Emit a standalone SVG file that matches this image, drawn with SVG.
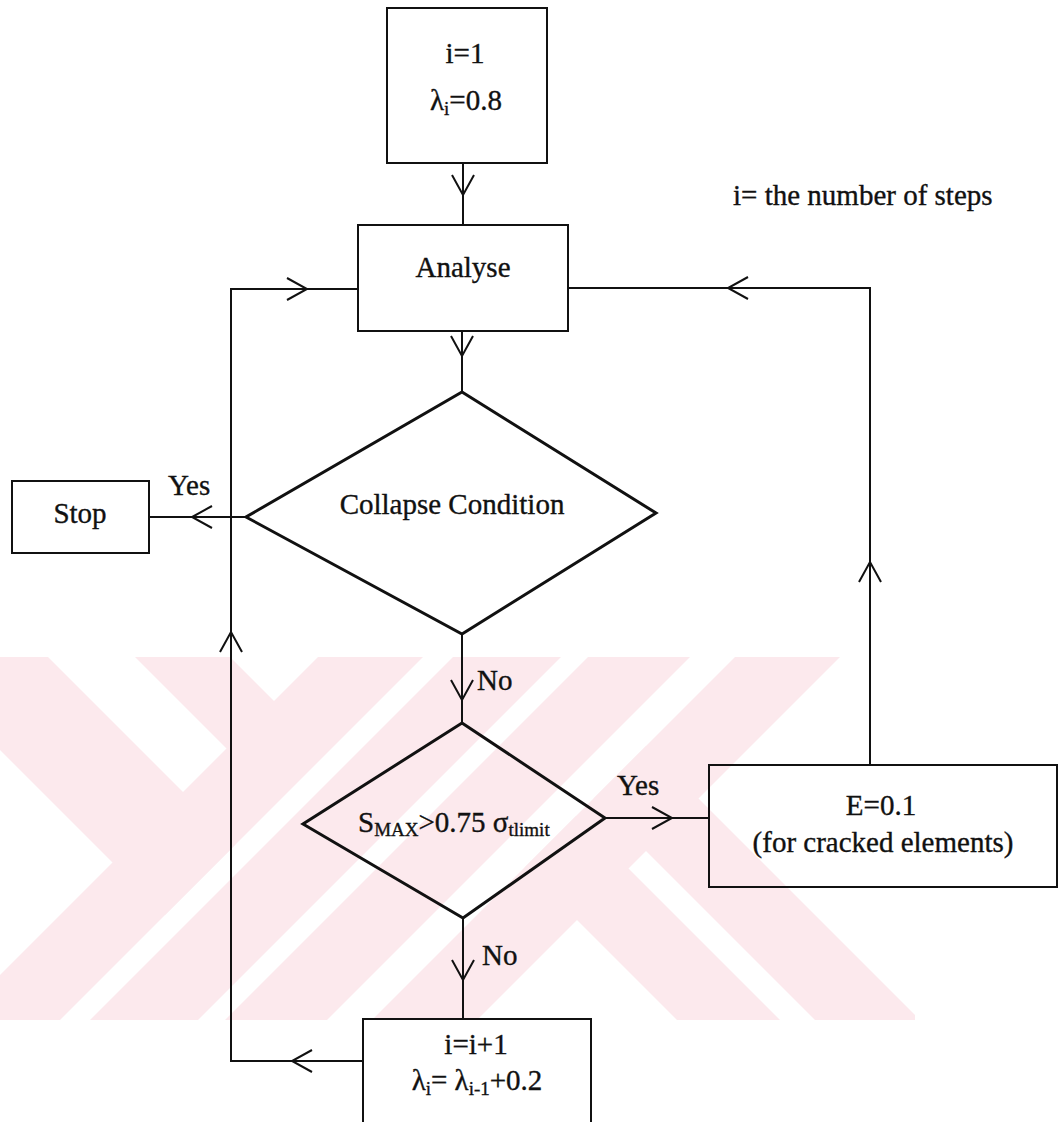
<svg xmlns="http://www.w3.org/2000/svg" width="1059" height="1122" viewBox="0 0 1059 1122">
  <style>
    .box { fill: none; stroke: #111; stroke-width: 2; }
    .dia { fill: none; stroke: #111; stroke-width: 3; stroke-linejoin: miter; }
    .wire { fill: none; stroke: #111; stroke-width: 2; stroke-linecap: square; marker-mid: url(#arr); }
    text { font-family: "Liberation Serif", "Times New Roman", "DejaVu Serif", serif; font-size: 29px; fill: #111; stroke: #111; stroke-width: 0.35; }
    .mid { text-anchor: middle; }
    .sub { font-size: 19px; }
    .wm { fill: #fce9ed; }
  </style>
  <defs>
    <marker id="arr" markerUnits="userSpaceOnUse" viewBox="-22 -13 24 26" refX="0" refY="0" markerWidth="24" markerHeight="26" orient="auto" overflow="visible">
      <path d="M-20,-11 L0,0 L-20,11" fill="none" stroke="#111" stroke-width="2"/>
    </marker>
    <clipPath id="wmClip">
      <rect x="0" y="657" width="915" height="363"/>
    </clipPath>
  </defs>

  <rect width="1059" height="1122" fill="#fff"/>

  <!-- background stamp: diagonal bands -->
  <g id="stamp" clip-path="url(#wmClip)" class="wm">
    <polygon points="-150,600 -9,600 235.5,844.5 165,915"/>
    <polygon points="78,600 173,600 281.5,708.5 234,756"/>
    <polygon points="375,600 480,600 -20,1100 -125,1100"/>
    <polygon points="510,600 618,600 118,1100 10,1100"/>
    <polygon points="645,600 747,600 247,1100 145,1100"/>
    <polygon points="792,600 897,600 397,1100 292,1100"/>
    <polygon points="524.5,867.5 576,816 860,1100 757,1100"/>
    <polygon points="593.5,798.5 646,746 1000,1100 895,1100"/>
  </g>

  <!-- connectors -->
  <g id="connectors">
    <path class="wire" d="M463,163 L463,195 L463,225"/>
    <path class="wire" d="M462,331 L462,356 L462,392"/>
    <path class="wire" d="M246,517 L192,517 L149,517"/>
    <path class="wire" d="M462,634 L462,700 L462,723"/>
    <path class="wire" d="M463,918 L463,980 L463,1019"/>
    <path class="wire" d="M605,818 L672,818 L709,818"/>
    <path class="wire" d="M870,765 L870,562 L870,288"/>
    <path class="wire" d="M870,288 L728,288 L568,288"/>
    <path class="wire" d="M363,1061 L292,1061 L231,1061"/>
    <path class="wire" d="M231,1061 L231,632 L231,289"/>
    <path class="wire" d="M231,289 L307,289 L358,289"/>
    <text x="168" y="495">Yes</text>
    <text x="477" y="690">No</text>
    <text x="482" y="965">No</text>
    <text x="617" y="795">Yes</text>
  </g>

  <g id="start">
    <rect class="box" x="387" y="8" width="160" height="155"/>
    <text class="mid" x="465" y="63">i=1</text>
    <text class="mid" x="466" y="110">λ<tspan class="sub" dy="5">i</tspan><tspan dy="-5">=0.8</tspan></text>
  </g>

  <g id="analyse">
    <rect class="box" x="358" y="225" width="210" height="106"/>
    <text class="mid" x="463" y="277">Analyse</text>
  </g>

  <g id="collapse">
    <polygon class="dia" points="462,392 656,513 462,634 246,517"/>
    <text class="mid" x="452" y="514">Collapse Condition</text>
  </g>

  <g id="stop">
    <rect class="box" x="12" y="481" width="137" height="72"/>
    <text class="mid" x="80" y="523">Stop</text>
  </g>

  <g id="stress">
    <polygon class="dia" points="462,723 605,818 463,918 303,824"/>
    <text x="358" y="832">S<tspan class="sub" font-size="21" dy="4">MAX</tspan><tspan dy="-4">&gt;0.75 σ</tspan><tspan class="sub" dy="4">tlimit</tspan></text>
  </g>

  <g id="modulus">
    <rect class="box" x="709" y="765" width="348" height="122"/>
    <text class="mid" x="881" y="815">E=0.1</text>
    <text class="mid" x="883" y="852">(for cracked elements)</text>
  </g>

  <g id="increment">
    <rect class="box" x="363" y="1019" width="228" height="120"/>
    <text class="mid" x="476" y="1054">i=i+1</text>
    <text class="mid" x="477" y="1090">λ<tspan class="sub" dy="5">i</tspan><tspan dy="-5">= λ</tspan><tspan class="sub" dy="5">i-1</tspan><tspan dy="-5">+0.2</tspan></text>
  </g>

  <g id="note">
    <text x="733" y="205">i= the number of steps</text>
  </g>
</svg>
